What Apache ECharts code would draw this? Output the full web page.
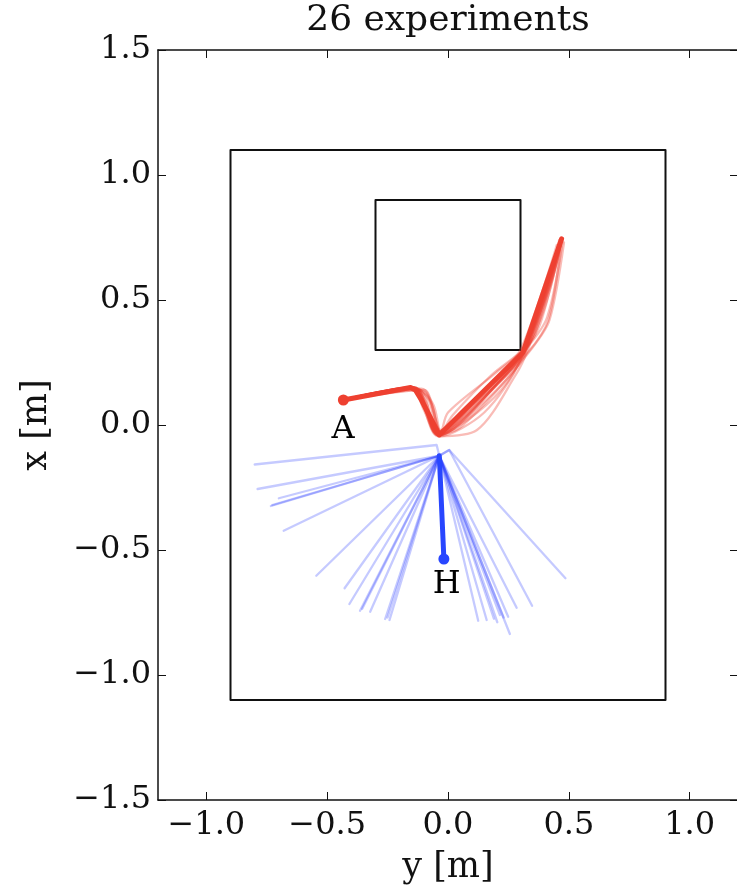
<!DOCTYPE html>
<html>
<head>
<meta charset="utf-8">
<script src="https://cdn.jsdelivr.net/npm/echarts@6/dist/echarts.min.js"></script>
<style>html,body{margin:0;padding:0;background:#fff;}#chart{width:737px;height:889px;}</style>
</head>
<body>
<div id="chart"></div>
<script>
// ---- data (horizontal = y [m], vertical = x [m]) ----
const titleText = '26 experiments';
const xAxisName = 'y [m]';
const yAxisName = 'x [m]';
const hTickValues = [-1.0, -0.5, 0.0, 0.5, 1.0];
const vTickValues = [-1.5, -1.0, -0.5, 0.0, 0.5, 1.0, 1.5];

const outerRect = [[-0.9,-1.1],[0.9,-1.1],[0.9,1.1],[-0.9,1.1],[-0.9,-1.1]];
const innerRect = [[-0.3,0.3],[0.3,0.3],[0.3,0.9],[-0.3,0.9],[-0.3,0.3]];

const pointA = [-0.433, 0.100];
const pointH = [-0.017, -0.536];
const labelA = [-0.434, -0.020];
const labelH = [-0.005, -0.640];

const robotMain = [[-0.433,0.100],[-0.155,0.150],[-0.135,0.140],[-0.110,0.100],[-0.036,-0.040],[0.310,0.290],[0.470,0.745]];
const robotRuns = [
  [[-0.433,0.100],[-0.140,0.148],[-0.090,0.090],[-0.040,-0.035],[0.100,0.060],[0.310,0.290],[0.380,0.400],[0.470,0.740]],
  [[-0.433,0.100],[-0.130,0.145],[-0.070,0.090],[-0.030,-0.020],[0.150,0.120],[0.320,0.300],[0.410,0.430],[0.475,0.740]],
  [[-0.433,0.100],[-0.150,0.150],[-0.040,-0.045],[0.120,-0.020],[0.280,0.200],[0.330,0.300],[0.420,0.550],[0.470,0.745]],
  [[-0.433,0.100],[-0.140,0.150],[-0.045,-0.040],[0.050,-0.010],[0.250,0.190],[0.320,0.290],[0.460,0.700],[0.470,0.745]],
  [[-0.433,0.100],[-0.120,0.140],[-0.060,0.080],[-0.030,-0.030],[0.000,0.050],[0.200,0.210],[0.300,0.300],[0.450,0.720]],
  [[-0.433,0.100],[-0.145,0.148],[-0.035,-0.040],[0.180,0.120],[0.350,0.310],[0.420,0.420],[0.480,0.730]],
  [[-0.433,0.100],[-0.150,0.150],[-0.100,0.060],[-0.040,-0.040],[0.080,0.020],[0.220,0.140],[0.310,0.280],[0.440,0.620],[0.470,0.740]],
  [[-0.433,0.100],[-0.110,0.145],[-0.050,0.020],[-0.030,-0.035],[0.100,0.080],[0.300,0.270],[0.400,0.500],[0.468,0.740]],
  [[-0.433,0.100],[-0.140,0.150],[-0.040,-0.040],[0.020,0.040],[0.180,0.200],[0.310,0.300],[0.360,0.360],[0.460,0.740]],
  [[-0.433,0.100],[-0.150,0.148],[-0.035,-0.045],[0.150,0.050],[0.300,0.260],[0.470,0.745]],
  [[-0.433,0.100],[-0.130,0.148],[-0.090,0.100],[-0.050,-0.030],[0.120,0.090],[0.330,0.290],[0.415,0.420],[0.470,0.740]],
  [[-0.433,0.100],[-0.145,0.150],[-0.040,-0.040],[0.070,0.030],[0.290,0.260],[0.340,0.330],[0.470,0.740]],
  [[-0.433,0.100],[-0.100,0.140],[-0.060,0.060],[-0.035,-0.030],[0.140,0.100],[0.310,0.290],[0.470,0.745]],
  [[-0.433,0.100],[-0.140,0.150],[-0.038,-0.042],[0.200,0.160],[0.320,0.300],[0.400,0.470],[0.472,0.742]],
  [[-0.433,0.100],[-0.145,0.150],[-0.080,0.100],[-0.040,-0.030],[0.060,0.060],[0.300,0.285],[0.430,0.580],[0.470,0.745]],
  [[-0.433,0.100],[-0.150,0.150],[-0.036,-0.040],[0.240,0.200],[0.320,0.295],[0.465,0.745]]
];

const humanMain = [[-0.017,-0.536],[-0.036,-0.123]];
const humanRuns = [
  [[-0.036,-0.123],[-0.047,-0.080],[-0.800,-0.158]],
  [[-0.036,-0.123],[-0.788,-0.256]],
  [[-0.036,-0.123],[-0.700,-0.293]],
  [[-0.036,-0.123],[-0.733,-0.324]],
  [[-0.036,-0.123],[-0.727,-0.320]],
  [[-0.036,-0.123],[-0.680,-0.423]],
  [[-0.036,-0.123],[-0.545,-0.603]],
  [[-0.036,-0.123],[-0.428,-0.653]],
  [[-0.036,-0.123],[-0.408,-0.716]],
  [[-0.036,-0.123],[-0.364,-0.743]],
  [[-0.036,-0.123],[-0.355,-0.735]],
  [[-0.036,-0.123],[-0.322,-0.747]],
  [[-0.036,-0.123],[-0.260,-0.776]],
  [[-0.036,-0.123],[-0.250,-0.770]],
  [[-0.036,-0.123],[-0.242,-0.780]],
  [[-0.036,-0.123],[0.125,-0.783]],
  [[-0.036,-0.123],[0.160,-0.780]],
  [[-0.036,-0.123],[0.190,-0.775]],
  [[-0.036,-0.123],[0.204,-0.789]],
  [[-0.036,-0.123],[0.215,-0.760]],
  [[-0.036,-0.123],[0.230,-0.770]],
  [[-0.036,-0.123],[0.256,-0.836]],
  [[-0.036,-0.123],[0.249,-0.767]],
  [[-0.036,-0.123],[0.284,-0.731]],
  [[-0.036,-0.123],[0.005,-0.100],[0.348,-0.723]],
  [[-0.036,-0.123],[0.005,-0.100],[0.486,-0.613]]
];

// ---- chart ----
const FONT = 'DejaVu Serif';
const FS = 32;
const FS_NAME = 35;
const fmt = v => { const a = Math.abs(v).toFixed(1); return v < -1e-9 ? '\u2212' + a : a; };

const series = [];
function lineSeries(data, color, width, z, smooth) {
  series.push({ type: 'line', data: data, showSymbol: false, symbol: 'none', silent: true, smooth: smooth || false,
    animation: false, z: z, lineStyle: { color: color, width: width, join: 'round', cap: 'round' } });
}
lineSeries(outerRect, '#111', 2, 2);
lineSeries(innerRect, '#111', 2, 2);
humanRuns.forEach(p => lineSeries(p, 'rgba(30,50,255,0.26)', 2.3, 3));
lineSeries(humanMain, '#2846ff', 5, 4);
robotRuns.forEach(p => lineSeries(p, 'rgba(238,64,48,0.35)', 2.3, 5, 0.3));
lineSeries(robotMain, '#ee4030', 5, 6);
series.push({ type: 'scatter', data: [pointA], symbolSize: 11, itemStyle: { color: '#ee4030', opacity: 1 }, silent: true, animation: false, z: 7 });
series.push({ type: 'scatter', data: [pointH], symbolSize: 11, itemStyle: { color: '#2846ff', opacity: 1 }, silent: true, animation: false, z: 7 });
series.push({ type: 'scatter', silent: true, animation: false, z: 8, symbolSize: 1,
  itemStyle: { color: 'rgba(0,0,0,0)' },
  data: [{ value: labelA, name: 'A' }, { value: labelH, name: 'H' }],
  label: { show: true, position: 'inside', formatter: p => p.name, color: '#000', opacity: 1, textBorderWidth: 0,
    fontFamily: FONT, fontSize: FS } });

const axisLine = { show: true, onZero: false, lineStyle: { color: '#111', width: 1.5 } };
const tick = { show: true, inside: true, length: 8, lineStyle: { color: '#111', width: 1 } };

const option = {
  backgroundColor: '#fff',
  animation: false,
  grid: { left: 158, top: 50, width: 580, height: 750, outerBoundsMode: 'none', containLabel: false },
  xAxis: [
    { type: 'value', position: 'bottom', min: -1.2, max: 1.2,
      axisLine: axisLine, axisTick: Object.assign({ customValues: hTickValues }, tick), splitLine: { show: false },
      axisLabel: { customValues: hTickValues, formatter: fmt, color: '#111', fontFamily: FONT, fontSize: FS, margin: 10 },
      name: xAxisName, nameLocation: 'middle', nameGap: 50,
      nameTextStyle: { color: '#111', fontFamily: FONT, fontSize: FS_NAME } },
    { type: 'value', position: 'top', min: -1.2, max: 1.2,
      axisLine: axisLine, axisTick: Object.assign({ customValues: hTickValues }, tick), splitLine: { show: false },
      axisLabel: { show: false, customValues: hTickValues },
      name: titleText, nameLocation: 'middle', nameGap: 11,
      nameTextStyle: { color: '#111', fontFamily: FONT, fontSize: 36, verticalAlign: 'bottom' } }
  ],
  yAxis: [
    { type: 'value', position: 'left', min: -1.5, max: 1.5, interval: 0.5,
      axisLine: axisLine, axisTick: tick, splitLine: { show: false },
      axisLabel: { formatter: fmt, color: '#111', fontFamily: FONT, fontSize: FS, margin: 7, showMinLabel: true, showMaxLabel: true },
      name: yAxisName, nameLocation: 'middle', nameGap: 104, nameRotate: 90,
      nameTextStyle: { color: '#111', fontFamily: FONT, fontSize: FS_NAME } },
    { type: 'value', position: 'right', min: -1.5, max: 1.5, interval: 0.5,
      axisLine: axisLine, axisTick: tick, splitLine: { show: false }, axisLabel: { show: false } }
  ],
  series: series
};
const chart = echarts.init(document.getElementById('chart'), null, { renderer: 'canvas' });
chart.setOption(option);
</script>
</body>
</html>
